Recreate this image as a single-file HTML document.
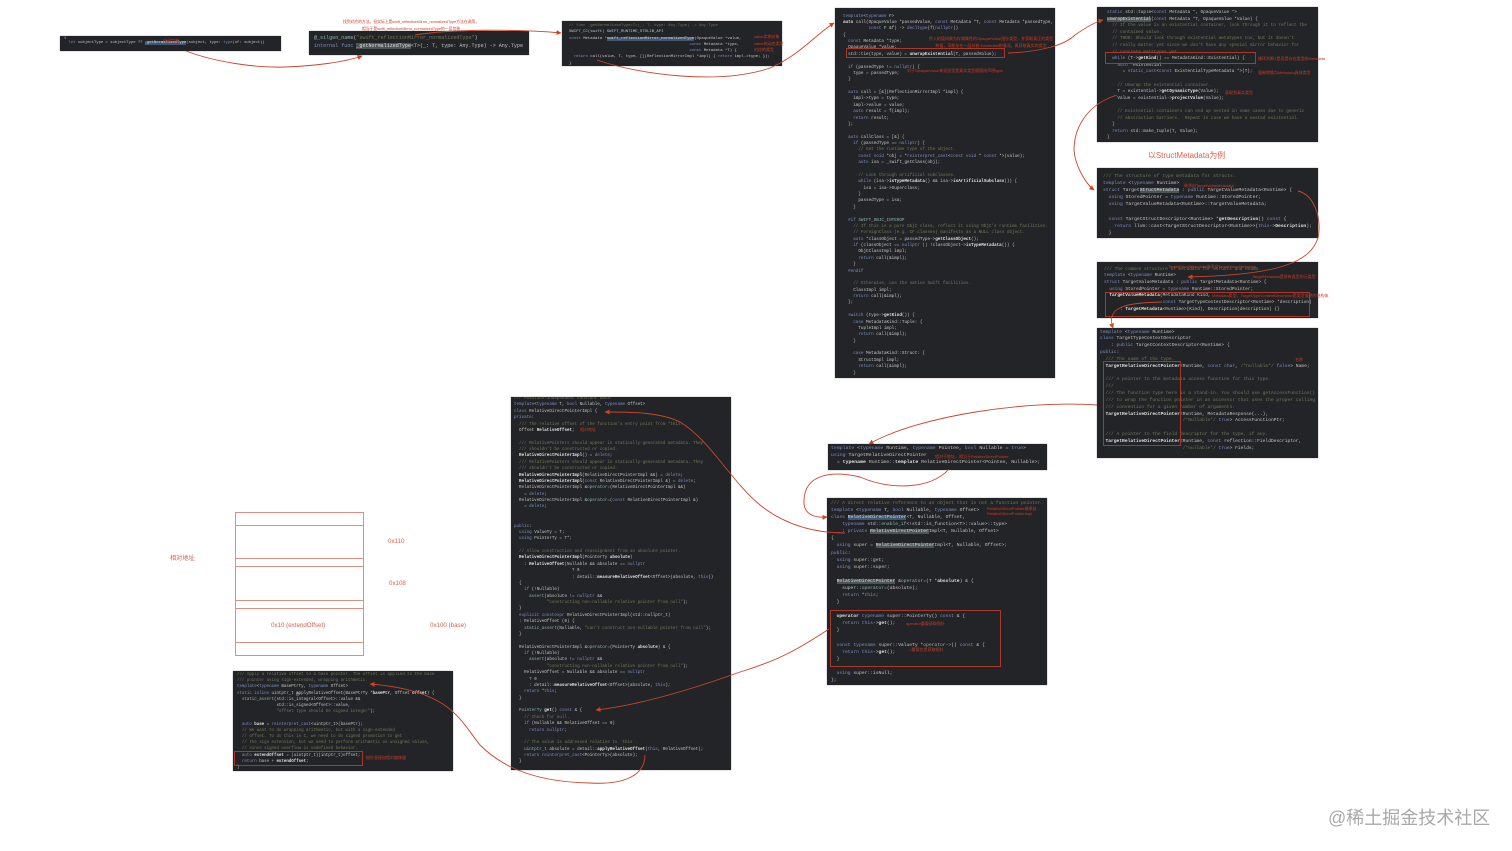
<!DOCTYPE html>
<html lang="zh"><head><meta charset="utf-8"><title>Diagram</title>
<style>
html,body{margin:0;padding:0;background:#fff}
body{position:relative;width:1512px;height:851px;overflow:hidden;font-family:"Liberation Sans","Noto Sans CJK SC",sans-serif}
.c{position:absolute;background:#232427;box-shadow:0 0 1px #777;overflow:hidden}
pre{position:absolute;margin:0;font-family:"Liberation Mono","DejaVu Sans Mono",monospace;color:#c4c4c4;white-space:pre;filter:blur(.3px)}
pre em{font-style:normal;color:#6f7b58}
pre b{font-weight:normal;color:#7c8fc0}
pre u{text-decoration:none;color:#8fb3ae}
pre strong{color:#e0e0e0;font-weight:bold}
pre mark{background:#3e5674;color:#ddd}
pre mark.g{background:#4b5556}
.r{position:absolute;color:#cf3a22;font-size:4px;line-height:5px;white-space:pre;z-index:5;filter:blur(.2px)}
.l{position:absolute;color:#d9614e;white-space:pre;z-index:5}
.box{position:absolute;border:1px solid #a8382a;box-sizing:border-box;z-index:4}
.ln{position:absolute;left:235px;width:129px;height:1px;background:#e28d82}
svg{position:absolute;left:0;top:0;z-index:6}
</style></head><body>

<div class="c" style="left:60px;top:36px;width:221px;height:15px"><pre style="left:4px;top:0;font-size:3.85px;line-height:5px">{
  <b>let</b> subjectType = subjectType ?? <mark>_getNormalizedType</mark>(subject, type: <b>type</b>(of: subject))</pre></div>

<div class="c" style="left:309px;top:31px;width:220px;height:24px"><pre style="left:5px;top:4px;font-size:5.05px;line-height:7.6px"><u>@_silgen_name</u>(<em>"swift_reflectionMirror_normalizedType"</em>)
<b>internal func</b> <mark class="g">_getNormalizedType</mark>&lt;T&gt;(_: T, type: Any.Type) -&gt; Any.Type</pre></div>

<div class="c" style="left:562px;top:21px;width:220px;height:45px"><pre style="left:7px;top:2px;font-size:3.95px;line-height:6.3px"><em>// func _getNormalizedType&lt;T&gt;(_: T, type: Any.Type) -&gt; Any.Type</em>
SWIFT_CC(swift) SWIFT_RUNTIME_STDLIB_API
<b>const</b> Metadata *<mark>swift_reflectionMirror_normalizedType</mark>(OpaqueValue *value,
                                                   <b>const</b> Metadata *type,
                                                   <b>const</b> Metadata *T) {
  <b>return</b> call(value, T, type, [](ReflectionMirrorImpl *impl) { <b>return</b> impl-&gt;type; });
}</pre></div>

<div class="c" style="left:835px;top:8px;width:220px;height:370px"><pre style="left:8px;top:5.5px;font-size:4.27px;line-height:6.38px"><b>template</b>&lt;<b>typename</b> F&gt;
<strong>auto</strong> call(OpaqueValue *passedValue, <b>const</b> Metadata *T, <b>const</b> Metadata *passedType,
          <b>const</b> F &amp;f) -&gt; <b>decltype</b>(f(<b>nullptr</b>))
{
  <b>const</b> Metadata *type;
  OpaqueValue *value;
  std::tie(type, value) = <strong>unwrapExistential</strong>(T, passedValue);

  <b>if</b> (passedType != <b>nullptr</b>) {
    type = passedType;
  }

  <b>auto</b> call = [&amp;](ReflectionMirrorImpl *impl) {
    impl-&gt;type = type;
    impl-&gt;value = value;
    <b>auto</b> result = f(impl);
    <b>return</b> result;
  };

  <b>auto</b> callClass = [&amp;] {
    <b>if</b> (passedType == <b>nullptr</b>) {
      <em>// Get the runtime type of the object.</em>
      <b>const void</b> *obj = *<b>reinterpret_cast</b>&lt;<b>const void</b> * <b>const</b> *&gt;(value);
      <b>auto</b> isa = _swift_getClass(obj);

      <em>// Look through artificial subclasses.</em>
      <b>while</b> (isa-&gt;<strong>isTypeMetadata</strong>() &amp;&amp; isa-&gt;<strong>isArtificialSubclass</strong>()) {
        isa = isa-&gt;Superclass;
      }
      passedType = isa;
    }

  <b>#if</b> <u>SWIFT_OBJC_INTEROP</u>
    <em>// If this is a pure ObjC class, reflect it using ObjC's runtime facilities.</em>
    <em>// ForeignClass (e.g. CF classes) manifests as a NULL class object.</em>
    <b>auto</b> *classObject = passedType-&gt;<strong>getClassObject</strong>();
    <b>if</b> (classObject == <b>nullptr</b> || !classObject-&gt;<strong>isTypeMetadata</strong>()) {
      ObjCClassImpl impl;
      <b>return</b> call(&amp;impl);
    }
  <b>#endif</b>

    <em>// Otherwise, use the native Swift facilities.</em>
    ClassImpl impl;
    <b>return</b> call(&amp;impl);
  };

  <b>switch</b> (type-&gt;<strong>getKind</strong>()) {
    <b>case</b> MetadataKind::Tuple: {
      TupleImpl impl;
      <b>return</b> call(&amp;impl);
    }

    <b>case</b> MetadataKind::Struct: {
      StructImpl impl;
      <b>return</b> call(&amp;impl);
    }</pre></div>

<div class="c" style="left:1097px;top:7px;width:221px;height:135px"><pre style="left:10px;top:3px;font-size:4.33px;line-height:6.6px"><b>static</b> std::tuple&lt;<b>const</b> Metadata *, OpaqueValue *&gt;
<mark class="g">unwrapExistential</mark>(<b>const</b> Metadata *T, OpaqueValue *Value) {
  <em>// If the value is an existential container, look through it to reflect the</em>
  <em>// contained value.</em>
  <em>// TODO: Should look through existential metatypes too, but it doesn't</em>
  <em>// really matter yet since we don't have any special mirror behavior for</em>
  <em>// concrete metatypes yet.</em>
  <b>while</b> (T-&gt;<strong>getKind</strong>() == MetadataKind::Existential) {
    <b>auto</b> *existential
      = <b>static_cast</b>&lt;<b>const</b> ExistentialTypeMetadata *&gt;(T);

    <em>// Unwrap the existential container.</em>
    T = existential-&gt;<strong>getDynamicType</strong>(Value);
    Value = existential-&gt;<strong>projectValue</strong>(Value);

    <em>// Existential containers can end up nested in some cases due to generic</em>
    <em>// abstraction barriers.  Repeat in case we have a nested existential.</em>
  }
  <b>return</b> std::make_tuple(T, Value);
}</pre></div>

<div class="c" style="left:1097px;top:168px;width:221px;height:70px"><pre style="left:6px;top:5px;font-size:4.72px;line-height:7.1px"><em>/// The structure of type metadata for structs.</em>
<b>template</b> &lt;<b>typename</b> Runtime&gt;
<b>struct</b> Target<mark class="g">StructMetadata</mark> : <b>public</b> TargetValueMetadata&lt;Runtime&gt; {
  <b>using</b> StoredPointer = <b>typename</b> Runtime::StoredPointer;
  <b>using</b> TargetValueMetadata&lt;Runtime&gt;::TargetValueMetadata;

  <b>const</b> TargetStructDescriptor&lt;Runtime&gt; *<strong>getDescription</strong>() <b>const</b> {
    <b>return</b> llvm::cast&lt;TargetStructDescriptor&lt;Runtime&gt;&gt;(<b>this</b>-&gt;<strong>Description</strong>);
  }</pre></div>

<div class="c" style="left:1097px;top:262px;width:221px;height:56px"><pre style="left:7px;top:4.5px;font-size:4.45px;line-height:6.7px"><em>/// The common structure of metadata for structs and enums.</em>
<b>template</b> &lt;<b>typename</b> Runtime&gt;
<b>struct</b> TargetValueMetadata : <b>public</b> TargetMetadata&lt;Runtime&gt; {
  <b>using</b> StoredPointer = <b>typename</b> Runtime::StoredPointer;
  <strong>TargetValueMetadata</strong>(MetadataKind Kind,
                      <b>const</b> TargetTypeContextDescriptor&lt;Runtime&gt; *description)
      : <strong>TargetMetadata</strong>&lt;Runtime&gt;(Kind), Description(description) {}</pre></div>

<div class="c" style="left:1097px;top:328px;width:221px;height:130px"><pre style="left:3px;top:1.5px;font-size:4.6px;line-height:6.85px"><b>template</b> &lt;<b>typename</b> Runtime&gt;
<b>class</b> TargetTypeContextDescriptor
    : <b>public</b> TargetContextDescriptor&lt;Runtime&gt; {
<b>public</b>:
  <em>/// The name of the type.</em>
  <strong>TargetRelativeDirectPointer</strong>&lt;Runtime, <b>const char</b>, <em>/*nullable*/</em> <b>false</b>&gt; Name;

  <em>/// A pointer to the metadata access function for this type.</em>
  <em>///</em>
  <em>/// The function type here is a stand-in. You should use getAccessFunction()</em>
  <em>/// to wrap the function pointer in an accessor that uses the proper calling</em>
  <em>/// convention for a given number of arguments.</em>
  <strong>TargetRelativeDirectPointer</strong>&lt;Runtime, MetadataResponse(...),
                              <em>/*Nullable*/</em> <b>true</b>&gt; AccessFunctionPtr;

  <em>/// A pointer to the field descriptor for the type, if any.</em>
  <strong>TargetRelativeDirectPointer</strong>&lt;Runtime, <b>const</b> reflection::FieldDescriptor,
                              <em>/*nullable*/</em> <b>true</b>&gt; Fields;</pre></div>

<div class="c" style="left:511px;top:397px;width:220px;height:373px"><pre style="left:3px;top:-1px;font-size:4.22px;line-height:6.37px"><em>/// Position-independent constant data.</em>
<b>template</b>&lt;<b>typename</b> T, <b>bool</b> Nullable, <b>typename</b> Offset&gt;
<b>class</b> RelativeDirectPointerImpl {
<b>private</b>:
  <em>/// The relative offset of the function's entry point from *this.</em>
  Offset <strong>RelativeOffset</strong>;

  <em>/// RelativePointers should appear in statically-generated metadata. They</em>
  <em>/// shouldn't be constructed or copied.</em>
  <strong>RelativeDirectPointerImpl</strong>() = <b>delete</b>;
  <em>/// RelativePointers should appear in statically-generated metadata. They</em>
  <em>/// shouldn't be constructed or copied.</em>
  <strong>RelativeDirectPointerImpl</strong>(RelativeDirectPointerImpl &amp;&amp;) = <b>delete</b>;
  <strong>RelativeDirectPointerImpl</strong>(<b>const</b> RelativeDirectPointerImpl &amp;) = <b>delete</b>;
  RelativeDirectPointerImpl &amp;<u>operator=</u>(RelativeDirectPointerImpl &amp;&amp;)
    = <b>delete</b>;
  RelativeDirectPointerImpl &amp;<u>operator=</u>(<b>const</b> RelativeDirectPointerImpl &amp;)
    = <b>delete</b>;


<b>public</b>:
  <b>using</b> ValueTy = T;
  <b>using</b> PointerTy = T*;

  <em>// Allow construction and reassignment from an absolute pointer.</em>
  <strong>RelativeDirectPointerImpl</strong>(PointerTy <strong>absolute</strong>)
    : <strong>RelativeOffset</strong>(Nullable &amp;&amp; absolute == <b>nullptr</b>
                       ? 0
                       : detail::<strong>measureRelativeOffset</strong>&lt;Offset&gt;(absolute, <b>this</b>))
  {
    <b>if</b> (!Nullable)
      <u>assert</u>(absolute != <b>nullptr</b> &amp;&amp;
             <em>"constructing non-nullable relative pointer from null"</em>);
  }
  <b>explicit constexpr</b> RelativeDirectPointerImpl(std::nullptr_t)
  : RelativeOffset (0) {
    <u>static_assert</u>(Nullable, <em>"can't construct non-nullable pointer from null"</em>);
  }

  RelativeDirectPointerImpl &amp;<u>operator=</u>(PointerTy <strong>absolute</strong>) &amp; {
    <b>if</b> (!Nullable)
      <u>assert</u>(absolute != <b>nullptr</b> &amp;&amp;
             <em>"constructing non-nullable relative pointer from null"</em>);
    RelativeOffset = Nullable &amp;&amp; absolute == <b>nullptr</b>
      ? 0
      : detail::<strong>measureRelativeOffset</strong>&lt;Offset&gt;(absolute, <b>this</b>);
    <b>return</b> *<b>this</b>;
  }

  <u>PointerTy</u> <strong>get</strong>() <b>const</b> &amp; {
    <em>// Check for null.</em>
    <b>if</b> (Nullable &amp;&amp; RelativeOffset == 0)
      <b>return</b> <b>nullptr</b>;

    <em>// The value is addressed relative to `this`.</em>
    <u>uintptr_t</u> absolute = detail::<strong>applyRelativeOffset</strong>(<b>this</b>, RelativeOffset);
    <b>return</b> <b>reinterpret_cast</b>&lt;PointerTy&gt;(absolute);
  }</pre></div>

<div class="c" style="left:828px;top:444px;width:219px;height:26px"><pre style="left:3px;top:1px;font-size:4.85px;line-height:7px"><b>template</b> &lt;<b>typename</b> Runtime, <b>typename</b> Pointee, <b>bool</b> Nullable = <b>true</b>&gt;
<b>using</b> TargetRelativeDirectPointer
  = <strong>typename</strong> Runtime::<strong>template</strong> RelativeDirectPointer&lt;Pointee, Nullable&gt;;</pre></div>

<div class="c" style="left:827px;top:498px;width:220px;height:187px"><pre style="left:4px;top:2px;font-size:4.67px;line-height:7.08px"><em>/// A direct relative reference to an object that is not a function pointer.</em>
<b>template</b> &lt;<b>typename</b> T, <b>bool</b> Nullable, <b>typename</b> Offset&gt;
<b>class</b> <mark>RelativeDirectPointer</mark>&lt;T, Nullable, Offset,
    <b>typename</b> std::<u>enable_if</u>&lt;!std::is_function&lt;T&gt;::value&gt;::type&gt;
    : <b>private</b> <mark class="g">RelativeDirectPointer</mark>Impl&lt;T, Nullable, Offset&gt;
{
  <b>using</b> super = <mark class="g">RelativeDirectPointer</mark>Impl&lt;T, Nullable, Offset&gt;;
<b>public</b>:
  <b>using</b> super::get;
  <b>using</b> super::super;

  <mark class="g">RelativeDirectPointer</mark> &amp;<u>operator=</u>(T *<strong>absolute</strong>) &amp; {
    super::<u>operator=</u>(absolute);
    <b>return</b> *<b>this</b>;
  }

  <strong>operator</strong> <b>typename</b> super::PointerTy() <b>const</b> &amp; {
    <b>return</b> <b>this</b>-&gt;<strong>get</strong>();
  }

  <b>const typename</b> super::ValueTy *<u>operator-&gt;</u>() <b>const</b> &amp; {
    <b>return</b> <b>this</b>-&gt;<strong>get</strong>();
  }

  <b>using</b> super::isNull;
};</pre></div>

<div class="c" style="left:233px;top:671px;width:220px;height:100px"><pre style="left:4px;top:1px;font-size:4.12px;line-height:6.2px"><em>/// Apply a relative offset to a base pointer. The offset is applied to the base</em>
<em>/// pointer using sign-extended, wrapping arithmetic.</em>
<b>template</b>&lt;<b>typename</b> BasePtrTy, <b>typename</b> Offset&gt;
<b>static inline</b> uintptr_t <mark class="g">a</mark>pplyRelativeOffset(BasePtrTy *<strong>basePtr</strong>, Offset <strong>offset</strong>) {
  <u>static_assert</u>(std::is_integral&lt;Offset&gt;::value &amp;&amp;
                std::is_signed&lt;Offset&gt;::value,
                <em>"offset type should be signed integer"</em>);

  <b>auto</b> <strong>base</strong> = <b>reinterpret_cast</b>&lt;uintptr_t&gt;(basePtr);
  <em>// We want to do wrapping arithmetic, but with a sign-extended</em>
  <em>// offset. To do this in C, we need to do signed promotion to get</em>
  <em>// the sign extension, but we need to perform arithmetic on unsigned values,</em>
  <em>// since signed overflow is undefined behavior.</em>
  <b>auto</b> <strong>extendOffset</strong> = (uintptr_t)(intptr_t)offset;
  <b>return</b> base + <strong>extendOffset</strong>;
}</pre></div>

<div class="box" style="left:846px;top:48px;width:159px;height:10px"></div>
<div class="box" style="left:1105px;top:52px;width:151px;height:12px"></div>
<div class="box" style="left:1105px;top:292px;width:205px;height:25px"></div>
<div class="box" style="left:1103px;top:361px;width:78px;height:85px"></div>
<div class="box" style="left:830px;top:610px;width:171px;height:57px"></div>
<div class="box" style="left:234px;top:751px;width:129px;height:15px"></div>

<div class="r" style="left:163px;top:38px">自动包装</div>
<div class="r" style="left:330px;top:18.5px;width:162px;text-align:center;font-size:3.8px;line-height:7px">找到对应的方法。但实际上是swift_reflectionMirror_normalizedType方法在调用，
相当于是swift_reflectionMirror_normalizedType的一层包装</div>
<div class="r" style="left:754px;top:34px">value实例对象</div>
<div class="r" style="left:754px;top:41px">value的动态类型</div>
<div class="r" style="left:754px;top:47px">对应的类型</div>
<div class="r" style="left:928px;top:36px;width:126px;text-align:center;white-space:normal;line-height:6.5px">传入的值如果为存储属性的OpaqueValue指针类型，并获取真正的类型和值，可能存在一层封装 Existential的情况，再获取真实的类型</div>
<div class="r" style="left:907px;top:68px">对于OpaqueValue来说这里是真实类型赋值给声明type</div>
<div class="r" style="left:1258px;top:56px">循环判断T是否是存在类型的Metadata</div>
<div class="r" style="left:1258px;top:70px">强制转换为Metadata具体类型</div>
<div class="r" style="left:1225px;top:90px">获取到真实类型</div>
<div class="r" style="left:1184px;top:183px">继承自TargetValueMetadata</div>
<div class="r" style="left:1168px;top:264px">TargetStructMetadata继承自TargetValueMetadata</div>
<div class="r" style="left:1252px;top:274px">TargetMetadata是所有类型的元类型</div>
<div class="r" style="left:1212px;top:293px">Metadata类型，TargetTypeContextDescriptor是类型描述的结构体</div>
<div class="r" style="left:1295px;top:357px">名称</div>
<div class="r" style="left:580px;top:427px">相对地址</div>
<div class="r" style="left:935px;top:454px">相对于地址，相当于RelativeDirectPointer</div>
<div class="r" style="left:987px;top:506px;width:58px;white-space:normal">RelativeDirectPointer继承自RelativeDirectPointerImpl</div>
<div class="r" style="left:906px;top:621px">operator重载获取指针</div>
<div class="r" style="left:908px;top:647px">-&gt;重载也是获取指针</div>
<div class="r" style="left:366px;top:755px">指针直接加相对偏移量</div>

<div class="l" style="left:1148px;top:150px;font-size:7.9px;line-height:12px">以StructMetadata为例</div>
<div class="l" style="left:170px;top:553px;font-size:6.2px;line-height:12px">相对地址</div>
<div class="l" style="left:388px;top:536px;font-size:6.2px;line-height:12px">0x110</div>
<div class="l" style="left:389px;top:578px;font-size:6.2px;line-height:12px">0x108</div>
<div class="l" style="left:271px;top:620px;font-size:6.2px;line-height:12px">0x10 (extendOffset)</div>
<div class="l" style="left:430px;top:620px;font-size:6.2px;line-height:12px">0x100 (base)</div>

<div style="position:absolute;left:235px;top:512px;width:1px;height:144px;background:#e28d82"></div>
<div style="position:absolute;left:363px;top:512px;width:1px;height:144px;background:#e28d82"></div>
<div class="ln" style="top:512px"></div><div class="ln" style="top:525px"></div>
<div class="ln" style="top:558px"></div><div class="ln" style="top:566px"></div>
<div class="ln" style="top:600px"></div><div class="ln" style="top:608px"></div>
<div class="ln" style="top:642px"></div><div class="ln" style="top:655px"></div>

<svg width="1512" height="851" viewBox="0 0 1512 851">
<defs><marker id="a" markerWidth="6" markerHeight="6" refX="4.5" refY="2.5" orient="auto" markerUnits="userSpaceOnUse"><path d="M0,0 L5,2.5 L0,5 Z" fill="#d2401f"/></marker></defs>
<g fill="none" stroke="#c9452d" stroke-width=".9" marker-end="url(#a)">
<path d="M186,51 C215,62 255,68 285,67 C315,66 345,62 362,56"/>
<path d="M415,35 C450,29 520,29 561,33"/>
<path d="M597,60 C640,75 720,85 770,68 C800,55 815,35 834,23"/>
<path d="M1008,53 C1040,52 1065,45 1075,35 C1085,28 1095,22 1103,20"/>
<path d="M1117,95 C1085,105 1074,130 1074,150 C1075,165 1085,183 1094,190"/>
<path d="M1298,191 C1315,195 1322,220 1318,238 C1310,262 1280,275 1188,277"/>
<path d="M1162,302 C1130,303 1105,305 1113,328"/>
<path d="M1097,405 C1030,400 920,415 869,444"/>
<path d="M949,469 C930,490 890,490 860,477 C830,470 805,475 804,500 C803,515 815,518 827,517"/>
<path d="M845,533 C815,533 785,525 760,505 C730,480 710,440 680,422 C660,412 630,412 605,412"/>
<path d="M829,629 C800,648 780,660 740,672 C690,690 640,705 596,710"/>
<path d="M645,755 C645,775 625,785 590,783 C540,782 505,770 480,745 C460,720 450,690 370,684"/>
</g>
</svg>

<div style="position:absolute;left:1328px;top:806px;font-size:18px;line-height:24px;color:#a8a8a8;white-space:pre;font-family:'Liberation Sans','Noto Sans CJK SC',sans-serif">@稀土掘金技术社区</div>
</body></html>
